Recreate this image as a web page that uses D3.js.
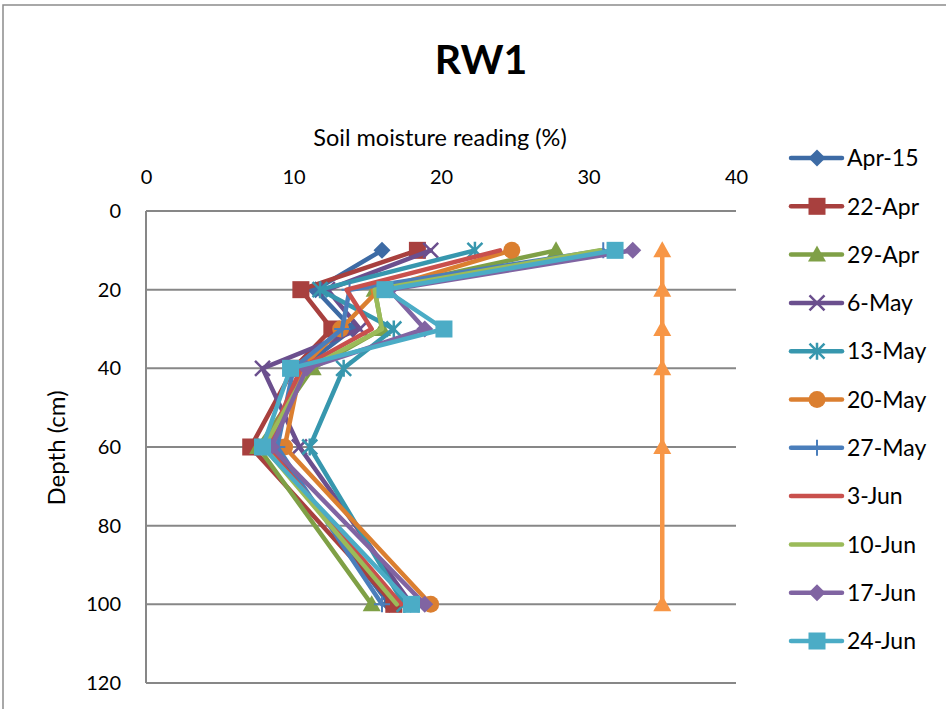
<!DOCTYPE html>
<html>
<head>
<meta charset="utf-8">
<script src="https://cdn.jsdelivr.net/npm/d3@7"></script>
<style>
  html, body { margin: 0; padding: 0; background: #fff; }
  svg { display: block; font-family: "Lato", "Open Sans", sans-serif; }
</style>
</head>
<body>
<svg id="chart" width="946" height="709"></svg>
<script>
// Sampling depths (cm)
const depths = [10, 20, 30, 40, 60, 100];

// Reading dates
const dates = ["Apr-15", "22-Apr", "29-Apr", "6-May", "13-May", "20-May",
               "27-May", "3-Jun", "10-Jun", "17-Jun", "24-Jun"];

// Soil moisture (%) per date, one value per depth
const apr15 = [16.0, 11.5, 14.0, 10.5, 8.5, 16.5];
const apr22 = [18.4, 10.5, 12.6, 10.0, 7.1, 16.8];
const apr29 = [27.8, 15.5, 16.0, 11.3, 7.6, 15.3];
const may6  = [19.3, 12.3, 14.5, 7.9, 10.4, 18.0];
const may13 = [22.3, 11.8, 16.8, 13.4, 11.1, 17.5];
const may20 = [24.8, 15.8, 13.2, 10.5, 9.4, 19.3];
const may27 = [31.0, 13.8, 13.3, 10.0, 8.9, 16.0];
const jun3  = [24.0, 13.6, 15.3, 10.5, 8.2, 17.3];
const jun10 = [30.8, 15.5, 16.0, 11.0, 8.0, 17.0];
const jun17 = [33.0, 16.5, 18.9, 10.9, 8.5, 18.9];
const jun24 = [31.8, 16.2, 20.2, 9.8, 7.9, 18.0];

// Reference line at the field-capacity level
const refLevel = [35, 35, 35, 35, 35, 35];

const seriesValues = [apr15, apr22, apr29, may6, may13, may20, may27, jun3, jun10, jun17, jun24];

const xTicks = [0, 10, 20, 30, 40];
const yTicks = [0, 20, 40, 60, 80, 100, 120];

const colors = ["#3D6BA5", "#A8403E", "#7FA046", "#6B4F8E", "#3797AE", "#DB7F30",
                "#4A7EBB", "#C9504D", "#9BBB59", "#8064A2", "#4BACC6"];
const markers = ["diamond", "square", "triangle", "x", "star", "circle",
                 "plus", "none", "none", "diamond", "square"];
const refColor = "#F79646";

const svg = d3.select("#chart");

// Outer chart frame
svg.append("rect").attr("x", 3).attr("y", 5).attr("width", 960).attr("height", 720)
  .attr("fill", "none").attr("stroke", "#8c8c8c").attr("stroke-width", 1.5);

const plot = { left: 146, right: 736, top: 211, bottom: 683 };
const x = d3.scaleLinear().domain([0, 40]).range([plot.left, plot.right]);
const y = d3.scaleLinear().domain([0, 120]).range([plot.top, plot.bottom]);

// Horizontal gridlines
svg.append("g").selectAll("line").data(yTicks).join("line")
  .attr("x1", plot.left).attr("x2", plot.right)
  .attr("y1", d => y(d)).attr("y2", d => y(d))
  .attr("stroke", "#878787").attr("stroke-width", 2);

// Vertical axis line
svg.append("line").attr("x1", plot.left).attr("x2", plot.left)
  .attr("y1", plot.top).attr("y2", plot.bottom)
  .attr("stroke", "#878787").attr("stroke-width", 2);

// Top axis labels
const xAxis = d3.axisTop(x).tickValues(xTicks).tickSize(0).tickPadding(0);
const gx = svg.append("g").attr("transform", `translate(0, 184)`).call(xAxis);
gx.select(".domain").remove();
gx.selectAll("text").attr("font-size", 20).attr("fill", "#000")
  .attr("font-family", "Lato, sans-serif");

// Left axis labels
const yAxis = d3.axisLeft(y).tickValues(yTicks).tickSize(0).tickPadding(0);
const gy = svg.append("g").attr("transform", `translate(121, 0)`).call(yAxis);
gy.select(".domain").remove();
gy.selectAll("text").attr("font-size", 20).attr("fill", "#000")
  .attr("font-family", "Lato, sans-serif");

// Titles
svg.append("text").attr("x", 481).attr("y", 74).attr("text-anchor", "middle")
  .attr("font-size", 41).attr("font-weight", "bold").text("RW1");
svg.append("text").attr("x", 440).attr("y", 146).attr("text-anchor", "middle")
  .attr("font-size", 23.5).text("Soil moisture reading (%)");
svg.append("text").attr("transform", "translate(65, 448) rotate(-90)")
  .attr("text-anchor", "middle").attr("font-size", 24).text("Depth (cm)");

// Marker shapes
function drawMarker(g, type, cx, cy, color) {
  const s = 8.5;
  if (type === "diamond") {
    g.append("path").attr("d", `M${cx},${cy - s}L${cx + s},${cy}L${cx},${cy + s}L${cx - s},${cy}Z`)
      .attr("fill", color);
  } else if (type === "square") {
    g.append("rect").attr("x", cx - 8.5).attr("y", cy - 8.5).attr("width", 17).attr("height", 17)
      .attr("fill", color);
  } else if (type === "triangle") {
    g.append("path").attr("d", `M${cx},${cy - 9}L${cx + 9},${cy + 7}L${cx - 9},${cy + 7}Z`)
      .attr("fill", color);
  } else if (type === "circle") {
    g.append("circle").attr("cx", cx).attr("cy", cy).attr("r", 8.5).attr("fill", color);
  } else if (type === "x") {
    const r = 7.5;
    g.append("path").attr("d", `M${cx - r},${cy - r}L${cx + r},${cy + r}M${cx - r},${cy + r}L${cx + r},${cy - r}`)
      .attr("stroke", color).attr("stroke-width", 2.5).attr("fill", "none");
  } else if (type === "star") {
    const r = 7.5;
    g.append("path").attr("d", `M${cx - r},${cy - r}L${cx + r},${cy + r}M${cx - r},${cy + r}L${cx + r},${cy - r}M${cx},${cy - r - 1}L${cx},${cy + r + 1}`)
      .attr("stroke", color).attr("stroke-width", 2.5).attr("fill", "none");
  } else if (type === "plus") {
    const r = 8;
    g.append("path").attr("d", `M${cx - r},${cy}L${cx + r},${cy}M${cx},${cy - r}L${cx},${cy + r}`)
      .attr("stroke", color).attr("stroke-width", 2).attr("fill", "none");
  }
}

const line = d3.line().x(d => x(d[0])).y(d => y(d[1]));

function drawSeries(vals, color, marker) {
  const g = svg.append("g");
  const pts = vals.map((v, i) => [v, depths[i]]);
  g.append("path").attr("d", line(pts)).attr("fill", "none")
    .attr("stroke", color).attr("stroke-width", 4.5)
    .attr("stroke-linejoin", "round").attr("stroke-linecap", "round");
  pts.forEach(p => drawMarker(g, marker, x(p[0]), y(p[1]), color));
}

seriesValues.forEach((vals, i) => drawSeries(vals, colors[i], markers[i]));
drawSeries(refLevel, refColor, "triangle");

// Legend
const legendY = d3.scaleLinear().domain([0, 10]).range([158, 641]);
dates.forEach((name, i) => {
  const g = svg.append("g");
  const ly = legendY(i);
  g.append("line").attr("x1", 791).attr("x2", 842).attr("y1", ly).attr("y2", ly)
    .attr("stroke", colors[i]).attr("stroke-width", 4.5).attr("stroke-linecap", "round");
  drawMarker(g, markers[i], 817, ly, colors[i]);
  g.append("text").attr("x", 847).attr("y", ly).attr("dy", "0.36em")
    .attr("font-size", 23).text(name);
});
</script>
</body>
</html>
